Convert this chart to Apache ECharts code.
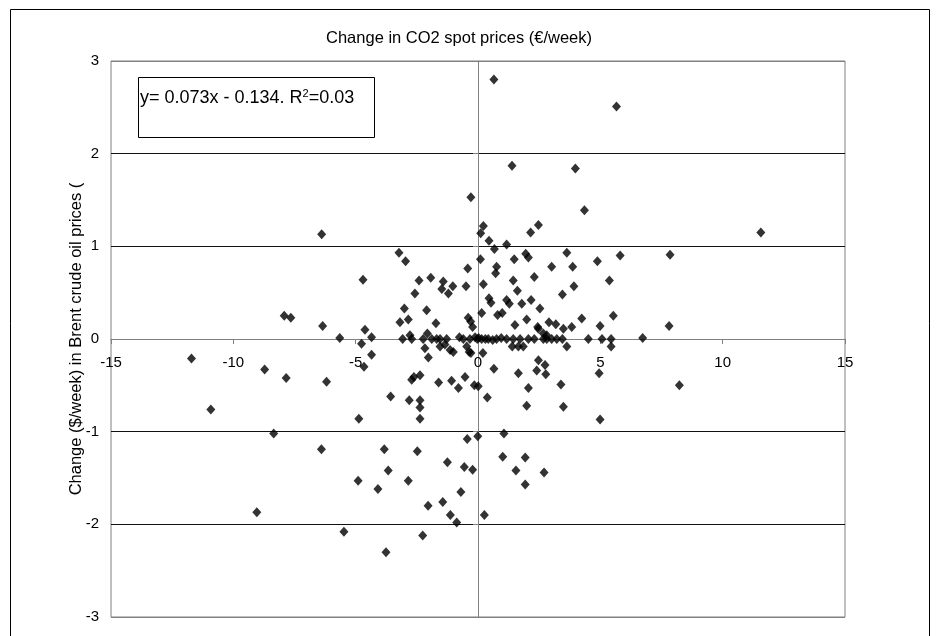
<!DOCTYPE html>
<html>
<head>
<meta charset="utf-8">
<script src="https://cdn.jsdelivr.net/npm/echarts@6/dist/echarts.min.js"></script>
<style>
html,body{margin:0;padding:0;background:#fff;}
#chart{width:938px;height:636px;}
</style>
</head>
<body>
<div id="chart"></div>
<script>
// Chart data
var chartTitle = 'Change in CO2 spot prices (€/week)';
var yAxisTitle = 'Change ($/week) in Brent crude oil prices (';
var xTicks = [-15, -10, -5, 0, 5, 10, 15];
var yTicks = [-3, -2, -1, 0, 1, 2, 3];

var xValues = [
  0.65, 5.66, 1.39, 3.98, -0.29, 4.35, 2.47, 2.15, 11.56, -6.39,
  0.22, 0.11, 0.45, 1.17, 0.67, 1.95, 2.06, 3.63, 4.88, 5.81,
  7.85, -3.23, -2.96, 0.10, 1.48, -0.42, 0.76, 0.72, 3.01, 3.87,
  -4.70, -2.41, -1.93, -1.42, -1.48, -1.03, -1.21, -0.49, 0.22, 1.44,
  2.30, 5.37, 1.61, 3.92, 3.45, -2.58, 0.45, 0.53, 1.17, 1.28,
  1.79, 2.17, -2.10, -3.01, 0.15, 0.80, 0.99, 2.53, -7.92, -7.65,
  1.99, 4.24, 5.53, -3.19, -2.85, -1.72, -0.40, -0.30, -0.22, 1.51,
  2.44, 2.47, 2.90, 3.18, 3.49, 3.83, 4.99, 7.81, -6.35, -4.62,
  2.67, 2.81, -5.65, -4.35, -3.08, -2.78, -2.71, -2.24, -2.07, -1.89,
  -1.69, -1.55, -1.28, -0.76, -0.60, -0.33, -0.12, -0.03, 0.03, 0.15,
  0.42, 0.76, 1.17, 1.44, 1.72, 2.06, 2.67, 2.81, 3.01, 3.22,
  3.45, 4.51, 5.07, 5.44, 6.73, 1.40, 1.65, 1.85, 3.63, 5.44,
  0.30, 0.60, 0.95, 2.30, -11.71, -8.72, -7.84, -6.19, -4.76, -4.35,
  -4.66, -2.17, -2.03, -1.55, -1.35, -1.14, -1.01, -0.46, -0.36, -0.29,
  0.20, 0.65, 1.65, 2.47, 2.74, 2.40, 2.77, 4.95, 8.23, -2.71,
  -2.62, -2.37, -1.61, -1.08, -0.80, -0.53, -0.15, 0.01, 0.38, 2.06,
  3.39, -3.57, -2.81, -2.37, -2.37, -2.37, -4.87, 1.99, 3.49, 4.99,
  -10.92, -8.35, -6.40, -4.90, -9.04, -5.48, -0.44, -0.01, 1.06, -3.83,
  -2.48, -1.25, -0.56, -0.22, 1.01, 1.93, 1.55, 2.70, 1.93, -3.67,
  -4.09, -2.85, -0.70, -2.04, -1.44, -1.13, -0.87, 0.26, -2.26, -3.76
];
var yValues = [
  2.80, 2.51, 1.87, 1.84, 1.53, 1.39, 1.23, 1.15, 1.15, 1.13,
  1.22, 1.14, 1.06, 1.02, 0.97, 0.92, 0.88, 0.93, 0.84, 0.90,
  0.91, 0.93, 0.84, 0.86, 0.86, 0.76, 0.78, 0.71, 0.78, 0.78,
  0.64, 0.63, 0.66, 0.62, 0.54, 0.57, 0.49, 0.57, 0.59, 0.63,
  0.67, 0.63, 0.52, 0.57, 0.48, 0.49, 0.44, 0.39, 0.42, 0.38,
  0.38, 0.42, 0.31, 0.33, 0.28, 0.26, 0.28, 0.33, 0.25, 0.23,
  0.21, 0.22, 0.25, 0.18, 0.21, 0.17, 0.23, 0.19, 0.13, 0.15,
  0.13, 0.11, 0.18, 0.16, 0.11, 0.13, 0.14, 0.14, 0.14, 0.10,
  0.06, 0.04, 0.01, 0.02, 0.00, 0.04, 0.00, 0.00, 0.06, 0.00,
  0.00, 0.00, 0.00, 0.02, 0.00, 0.00, 0.02, 0.00, 0.01, 0.00,
  0.00, 0.00, 0.00, 0.00, 0.00, 0.00, 0.00, 0.00, 0.00, 0.00,
  0.00, 0.00, 0.00, 0.00, 0.01, -0.08, -0.08, -0.08, -0.08, -0.08,
  0.00, -0.01, 0.01, 0.00, -0.21, -0.33, -0.42, -0.46, -0.05, -0.17,
  -0.30, -0.10, -0.20, -0.08, -0.06, -0.12, -0.14, -0.08, -0.14, -0.15,
  -0.15, -0.32, -0.37, -0.23, -0.28, -0.34, -0.38, -0.37, -0.50, -0.44,
  -0.41, -0.39, -0.47, -0.45, -0.53, -0.41, -0.50, -0.51, -0.63, -0.53,
  -0.49, -0.62, -0.66, -0.66, -0.74, -0.86, -0.86, -0.72, -0.73, -0.87,
  -0.76, -1.02, -1.19, -1.53, -1.87, -2.08, -1.08, -1.05, -1.02, -1.19,
  -1.21, -1.33, -1.38, -1.41, -1.27, -1.28, -1.42, -1.44, -1.57, -1.42,
  -1.62, -1.53, -1.65, -1.80, -1.76, -1.90, -1.98, -1.90, -2.12, -2.30
];

var points = xValues.map(function (x, i) { return [x, yValues[i]]; });

var GRID_TOP = 61, GRID_BOTTOM = 19, CHART_H = 636;
var plotH = CHART_H - GRID_TOP - GRID_BOTTOM;
// x axis crosses at y = 0, which is the vertical middle of the symmetric y range
var xAxisOffset = -plotH * (0 - yTicks[0]) / (yTicks[yTicks.length - 1] - yTicks[0]);

var chart = echarts.init(document.getElementById('chart'), null, {renderer: 'canvas'});
var FONT = '"Liberation Sans", Arial, sans-serif';

chart.setOption({
  backgroundColor: '#ffffff',
  animation: false,
  grid: {
    left: 111, right: 93, top: GRID_TOP, bottom: GRID_BOTTOM,
    show: true, borderColor: '#808080', borderWidth: 1, backgroundColor: 'transparent'
  },
  xAxis: {
    type: 'value', position: 'bottom', offset: xAxisOffset,
    min: xTicks[0], max: xTicks[xTicks.length - 1], interval: 5,
    axisLine: {show: true, onZero: false, lineStyle: {color: '#808080', width: 1}},
    axisTick: {show: true, inside: false, length: 5, lineStyle: {color: '#808080'}},
    axisLabel: {
      show: true, margin: 16, color: '#000', fontFamily: FONT, fontSize: 15,
      showMinLabel: true, showMaxLabel: true
    },
    splitLine: {show: false}
  },
  yAxis: {
    type: 'value',
    min: yTicks[0], max: yTicks[yTicks.length - 1], interval: 1,
    axisLine: {show: true, onZero: true, lineStyle: {color: '#808080', width: 1}},
    axisTick: {show: true, inside: false, length: 5, lineStyle: {color: '#808080'}},
    axisLabel: {
      show: true, margin: 12, color: '#000', fontFamily: FONT, fontSize: 15,
      showMinLabel: true, showMaxLabel: true
    },
    splitLine: {
      show: true,
      lineStyle: {color: ['#808080', '#111111', '#111111', '#808080', '#111111', '#111111', '#808080'], width: 1}
    }
  },
  series: [{
    type: 'scatter',
    data: points,
    symbol: 'diamond',
    symbolSize: [9, 10],
    itemStyle: {color: '#000000'},
    z: 5
  }],
  graphic: [
    {
      type: 'rect', silent: true, z: 0,
      shape: {x: 10.5, y: 9.5, width: 919, height: 640},
      style: {fill: 'none', stroke: '#000', lineWidth: 1}
    },
    {
      type: 'text', silent: true,
      x: 459, y: 38,
      style: {
        text: chartTitle, fill: '#000', font: '16.5px ' + FONT,
        textAlign: 'center', textVerticalAlign: 'middle'
      }
    },
    {
      type: 'text', silent: true,
      x: 76, y: 339, rotation: Math.PI / 2,
      style: {
        text: yAxisTitle, fill: '#000', font: '16.5px ' + FONT,
        textAlign: 'center', textVerticalAlign: 'middle'
      }
    },
    {
      type: 'rect', silent: true, z: 10,
      shape: {x: 138.5, y: 77.5, width: 236, height: 60},
      style: {fill: '#fff', stroke: '#000', lineWidth: 1}
    },
    {
      type: 'text', silent: true, z: 11,
      x: 140, y: 98,
      style: {
        text: '{n|y= 0.073x - 0.134. R}{s|2}{n|=0.03}',
        textVerticalAlign: 'middle',
        rich: {
          n: {fontFamily: FONT, fontSize: 18, fill: '#000', color: '#000'},
          s: {fontFamily: FONT, fontSize: 11, fill: '#000', color: '#000', verticalAlign: 'top', padding: [0, 0, 8, 0]}
        }
      }
    }
  ]
});
</script>
</body>
</html>
